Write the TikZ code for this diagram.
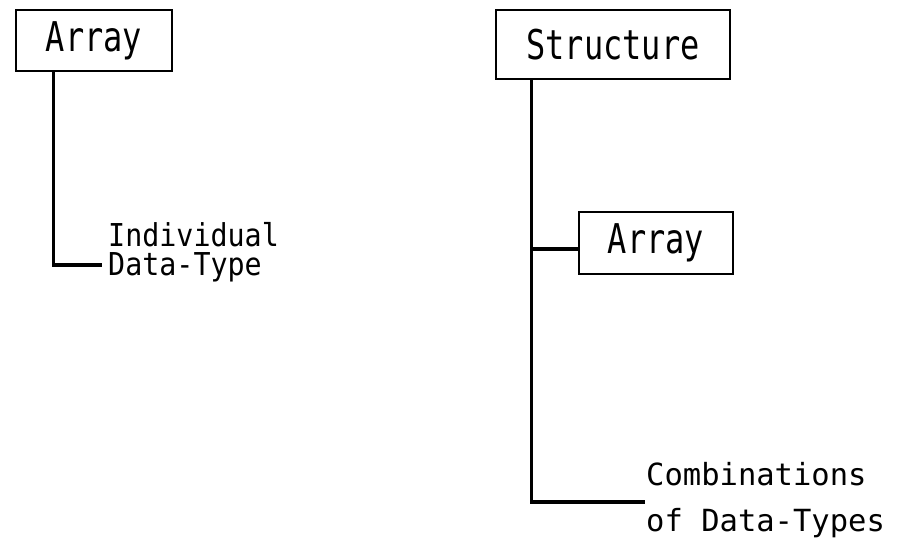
\documentclass[tikz,border=0pt]{standalone}
\usepackage{fontspec}
\setmonofont{DejaVu Sans Mono}
\newfontfamily\boxfont{DejaVu Sans Mono}[FakeStretch=0.78]
\newfontfamily\indfont{DejaVu Sans Mono}[FakeStretch=0.9]
\begin{document}
\begin{tikzpicture}[x=1pt,y=-1pt,
  box/.style={draw,line width=2.8pt,inner sep=0pt,font=\boxfont\fontsize{41}{41}\selectfont},
  conn/.style={line width=3.2pt,line cap=rect},
  lbl/.style={inner sep=0pt,align=left}]
\useasboundingbox[fill=white] (0,0) rectangle (901,558);
% left tree
\node[box,minimum width=156pt,minimum height=61pt] (arr1) at (94,40.5) {Array};
\coordinate (e1) at (100,265);
\node[lbl,anchor=base west,font=\indfont\fontsize{31.5}{29}\selectfont] (ind) at (108,275) {Individual\\Data-Type};
\draw[conn] ([xshift=39pt]arr1.south west) coordinate (t1) |- (e1);
% right tree
\node[box,minimum width=234pt,minimum height=69pt] (str) at (613,44.5) {Structure};
\node[box,minimum width=154pt,minimum height=62pt] (arr2) at (656,243) {Array};
\coordinate (e2) at (643,502);
\node[lbl,anchor=base west,font=\ttfamily\fontsize{30.5}{46}\selectfont] (comb) at (646,531) {Combinations\\of Data-Types};
\coordinate (t2) at ([xshift=37pt]str.south west);
\draw[conn] (t2) |- (e2);
\draw[conn] (t2 |- arr2.west) ++(0,6) -- ([yshift=-6pt]arr2.west);
\end{tikzpicture}
\end{document}
